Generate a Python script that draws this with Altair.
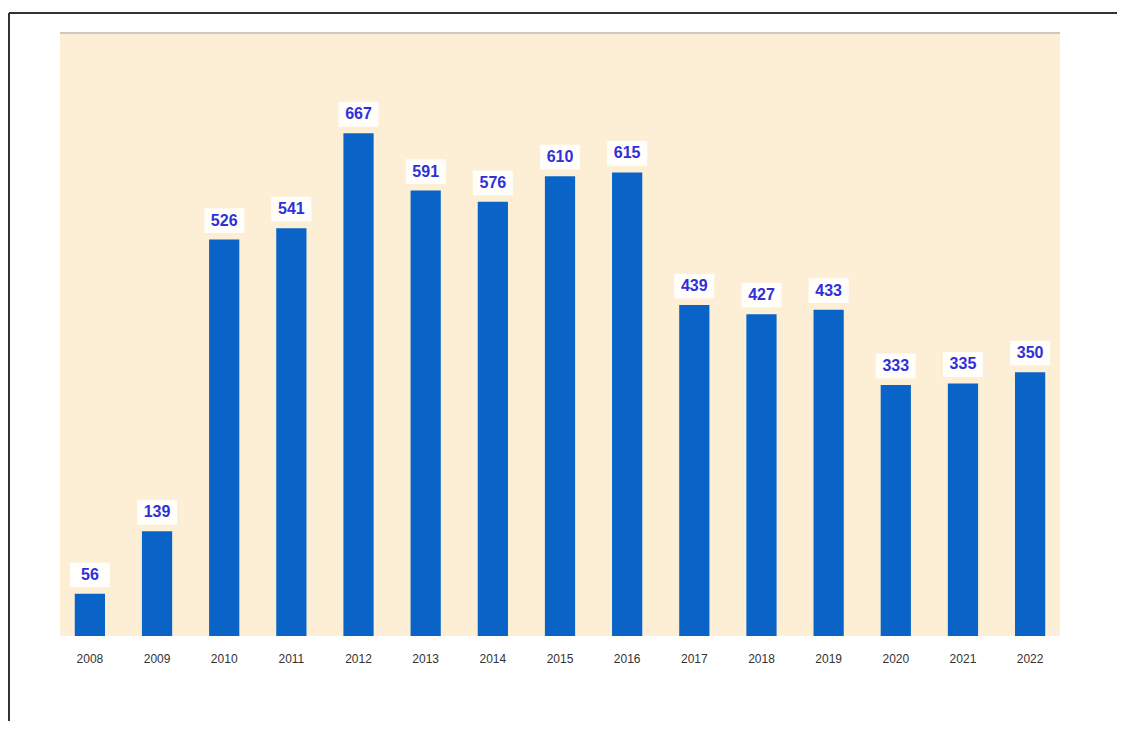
import altair as alt
import pandas as pd

years = ["2008", "2009", "2010", "2011", "2012", "2013", "2014", "2015",
         "2016", "2017", "2018", "2019", "2020", "2021", "2022"]
values = [56, 139, 526, 541, 667, 591, 576, 610, 615, 439, 427, 433, 333, 335, 350]

df = pd.DataFrame({"year": years, "value": values})

x = alt.X("year:N", sort=years, title=None,
          scale=alt.Scale(paddingInner=0.55, paddingOuter=0.22),
          axis=alt.Axis(labelAngle=0, ticks=False, domain=False, labelPadding=17,
                        labelFont="Liberation Sans", labelFontSize=12, labelColor="#333333"))
y = alt.Y("value:Q", title=None, scale=alt.Scale(domain=[0, 800], nice=False),
          axis=None)

base = alt.Chart(df)

bars = base.mark_bar(color="#0a63c6").encode(x=x, y=y)

boxes = base.mark_point(
    shape="M-1,-0.62H1V0.62H-1Z", filled=True, fill="white", opacity=0.9,
    size=1600, yOffset=-19, strokeWidth=0
).encode(x=x, y=y)

labels = base.mark_text(
    font="Liberation Sans", fontSize=16, fontWeight="bold", color="#3030d8",
    dy=-19, baseline="middle"
).encode(x=x, y=y, text="value:Q")

top_line = alt.Chart(df).mark_rule(color="#cfcac0", strokeWidth=2).encode(
    x=alt.value(0), x2=alt.value(1000), y=alt.value(0))

frame_top = alt.Chart(df).mark_rule(color="#333333", strokeWidth=2).encode(
    x=alt.value(-51), x2=alt.value(1057), y=alt.value(-20))
frame_left = alt.Chart(df).mark_rule(color="#333333", strokeWidth=2).encode(
    x=alt.value(-51), y=alt.value(-20), y2=alt.value(700))

chart = alt.layer(bars, boxes, labels, top_line, frame_top, frame_left).properties(
    width=1000, height=603,
    autosize=alt.AutoSizeParams(type="none"),
    padding={"left": 52, "top": 25, "right": 57, "bottom": 85},
    background="white",
).configure_view(fill="#fcefd6", stroke=None)

chart.save("out.html", embed_options={"renderer": "svg", "actions": False})
